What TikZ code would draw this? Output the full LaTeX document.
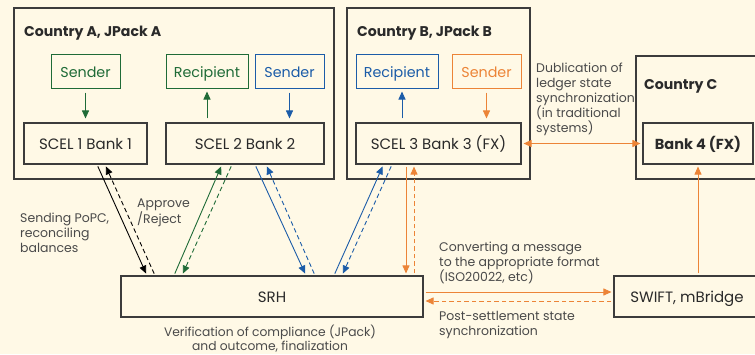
\documentclass[tikz,border=0pt]{standalone}
\usepackage{fontspec}
\setmainfont{Poppins}
\usetikzlibrary{arrows.meta,calc}

\definecolor{bgcream}{HTML}{FFF9E6}
\definecolor{frame}{HTML}{3C3C3C}
\definecolor{ink}{HTML}{2A2A2A}
\definecolor{note}{HTML}{4A4A4A}
\definecolor{fgreen}{HTML}{1F6B37}
\definecolor{fblue}{HTML}{1B5CA8}
\definecolor{forange}{HTML}{EC8437}

\tikzset{
  country/.style={draw=frame, line width=1.1pt, inner sep=0pt},
  bankbox/.style={draw=frame, line width=1.1pt, inner sep=0pt, text=ink,
    minimum height=41pt, text height=11pt, text depth=0pt,
    font=\fontsize{15}{18}\selectfont},
  rolebox/.style={line width=1pt, inner sep=0pt, minimum height=34pt,
    text height=12pt, text depth=0pt, font=\fontsize{14.3}{17}\selectfont},
  title/.style={anchor=base west, inner sep=0pt, text=ink,
    font=\bfseries\fontsize{14.1}{16}\selectfont},
  note/.style={inner sep=0pt, text=note, font=\fontsize{12.5}{15}\selectfont},
  flow/.style={line width=0.9pt, -{Triangle[length=8pt,width=7pt]},
    shorten <=2pt, shorten >=2pt},
  back/.style={flow, dashed, dash pattern=on 4.5pt off 3pt},
}

\begin{document}
\begin{tikzpicture}[x=1pt,y=-1pt]
  \fill[bgcream] (0,0) rectangle (755,354);
  \useasboundingbox (0,0) rectangle (755,354);

  % country frames
  \node[country, minimum width=320pt, minimum height=171pt] (cA) at (174,93.5) {};
  \node[country, minimum width=183pt, minimum height=171pt] (cB) at (438.5,93.5) {};
  \node[country, minimum width=139pt, minimum height=123pt] (cC) at (705.5,117.5) {};

  \node[title] (tA) at (24,36) {Country A, JPack A};
  \node[title] (tB) at (357,36) {Country B, JPack B};
  \node[title] (tC) at (644,89) {Country C};

  % participants
  \node[rolebox, draw=fgreen, text=fgreen, minimum width=69pt] (sA1) at (85.5,71) {Sender};
  \node[rolebox, draw=fgreen, text=fgreen, minimum width=82pt] (rA2) at (207,71) {Recipient};
  \node[rolebox, draw=fblue, text=fblue, minimum width=69pt] (sA2) at (289.5,71) {Sender};
  \node[rolebox, draw=fblue, text=fblue, minimum width=82pt] (rB) at (397,71) {Recipient};
  \node[rolebox, draw=forange, text=forange, minimum width=69pt] (sB) at (486.5,71) {Sender};

  % banks and hubs
  \node[bankbox, minimum width=123pt] (b1) at (85.5,143.5) {SCEL 1 Bank 1};
  \node[bankbox, minimum width=158pt] (b2) at (245,143.5) {SCEL 2 Bank 2};
  \node[bankbox, minimum width=165pt] (b3) at (438.5,143.5) {SCEL 3 Bank 3 (FX)};
  \node[bankbox, minimum width=110pt, font=\bfseries\fontsize{14.5}{17}\selectfont] (b4) at (698,143.5) {Bank 4 (FX)};
  \node[bankbox, minimum width=302pt] (srh) at (272,296.5) {SRH};
  \node[bankbox, minimum width=146pt] (swift) at (687,296.5) {SWIFT, mBridge};

  % participants to ledgers
  \draw[flow, fgreen, shorten <=4pt, shorten >=4pt] (sA1.south) -- (b1.north);
  \draw[flow, fgreen, shorten <=4pt, shorten >=3pt] (b2.north -| rA2.south) -- (rA2.south);
  \draw[flow, fblue, shorten <=4pt, shorten >=4pt] (sA2.south) -- (sA2.south |- b2.north);
  \draw[flow, fblue, shorten <=4pt, shorten >=3pt] ([xshift=5pt]b3.north -| rB.south) -- ([xshift=5pt]rB.south);
  \draw[flow, forange, shorten <=4pt, shorten >=4pt] (sB.south) -- (sB.south |- b3.north);

  % ledgers to SRH
  \draw[flow, black] ([xshift=11.5pt]b1.south) -- ([xshift=-125pt]srh.north);
  \draw[back, black] ([xshift=-117pt]srh.north) -- ([xshift=19.5pt]b1.south);
  \draw[flow, fgreen] ([xshift=-98pt]srh.north) -- ([xshift=-23pt]b2.south);
  \draw[back, fgreen] ([xshift=-13pt]b2.south) -- ([xshift=-90pt]srh.north);
  \draw[flow, fblue] ([xshift=10pt]b2.south) -- ([xshift=34pt]srh.north);
  \draw[back, fblue] ([xshift=43pt]srh.north) -- ([xshift=21pt]b2.south);
  \draw[flow, fblue] ([xshift=62pt]srh.north) -- ([xshift=-55pt]b3.south);
  \draw[back, fblue] ([xshift=-46.5pt]b3.south) -- ([xshift=70pt]srh.north);
  \draw[flow, forange] ([xshift=-32.5pt]b3.south) -- ([xshift=134pt]srh.north);
  \draw[back, forange] ([xshift=142pt]srh.north) -- ([xshift=-24.5pt]b3.south);

  % SRH and external rails
  \draw[flow, forange] ([yshift=4.5pt]srh.east) -- ([yshift=4.5pt]swift.west);
  \draw[back, forange] ([yshift=-4.5pt]swift.west) -- ([yshift=-4.5pt]srh.east);
  \draw[flow, forange] (swift.north -| b4.south) -- (b4.south);
  \draw[flow, forange, {Triangle[length=8pt,width=7pt]}-{Triangle[length=8pt,width=7pt]}] (b3.east) -- (b4.west);

  % annotations
  \node[note, anchor=north west, align=left] (nPoPC) at (20,213) {Sending PoPC,\\reconciling\\balances};
  \node[note, anchor=north west, align=left] (nAppr) at (137,198.5) {Approve\\/Reject};
  \node[note, anchor=north, align=center, font=\fontsize{12.3}{14.3}\selectfont] (nVer) at (270,325) {Verification of compliance (JPack)\\and outcome, finalization};
  \node[note, anchor=north west, align=left] (nConv) at (439,242) {Converting a message\\to the appropriate format\\(ISO20022, etc)};
  \node[note, anchor=north west, align=left] (nPost) at (439,311.5) {Post-settlement state\\synchronization};
  \node[note, anchor=north west, align=left] (nDub) at (536,62.5) {Dublication of\\ledger state\\synchronization\\(in traditional\\systems)};
\end{tikzpicture}
\end{document}
